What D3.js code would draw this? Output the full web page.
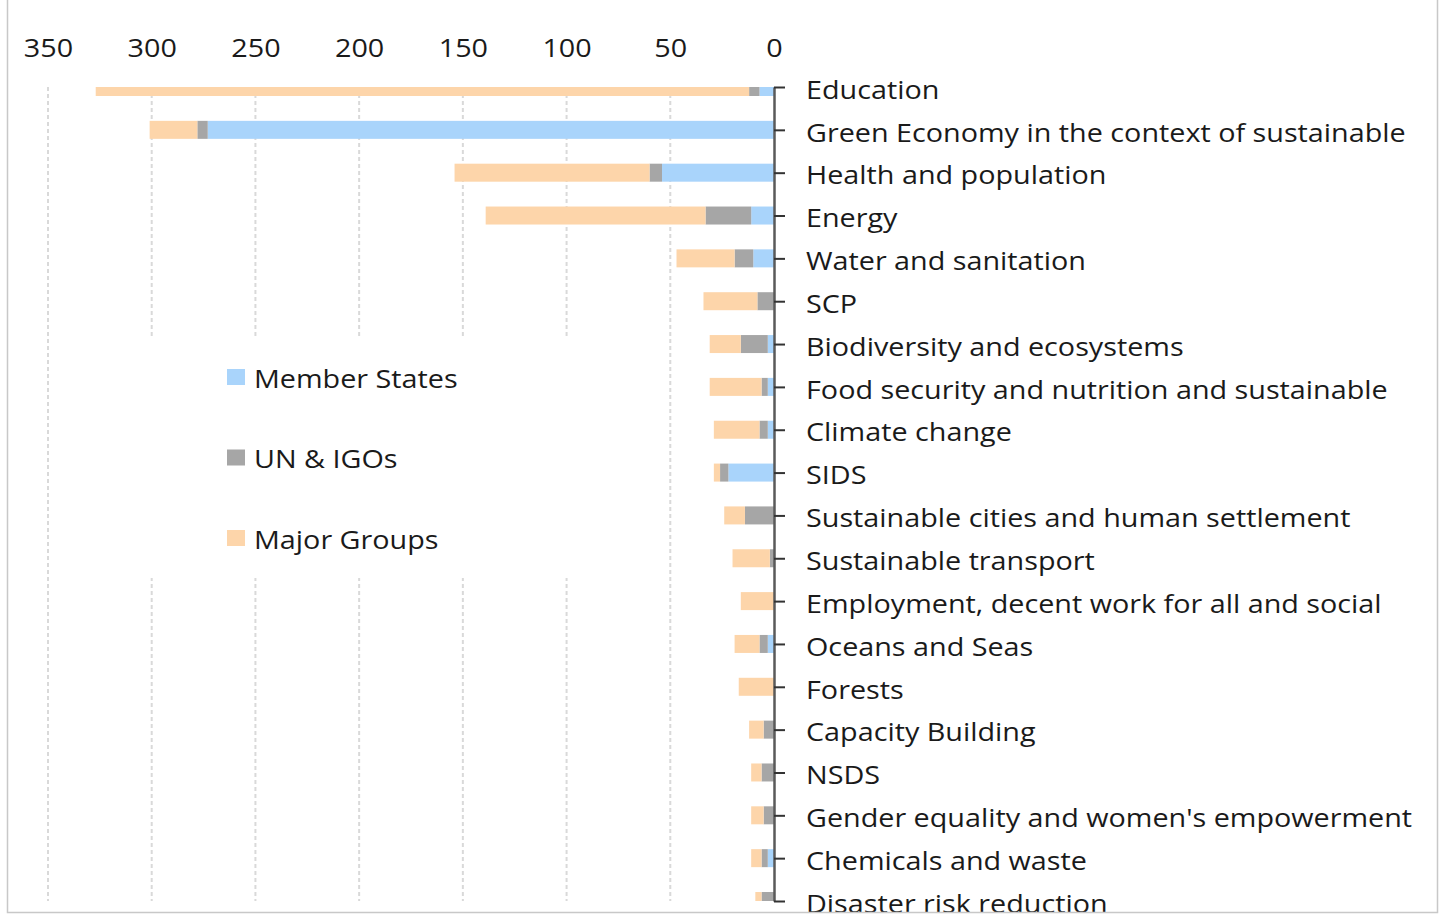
<!DOCTYPE html>
<html>
<head>
<meta charset="utf-8">
<script src="https://cdn.jsdelivr.net/npm/d3@7"></script>
<style>
  body { margin: 0; background: #fff; }
  text { font-family: "Open Sans", sans-serif; fill: #1a1a1a; }
</style>
</head>
<body>
<svg width="1443" height="915"></svg>
<script>
// data ======================================================
var topics = [
  "Education", "Green Economy in the context of sustainable", "Health and population",
  "Energy", "Water and sanitation", "SCP", "Biodiversity and ecosystems",
  "Food security and nutrition and sustainable", "Climate change", "SIDS",
  "Sustainable cities and human settlement", "Sustainable transport",
  "Employment, decent work for all and social", "Oceans and Seas", "Forests",
  "Capacity Building", "NSDS", "Gender equality and women's empowerment",
  "Chemicals and waste", "Disaster risk reduction"
];
var memberStates = [7, 273, 54, 11, 10, 0, 3, 3, 3, 22, 0, 0, 0, 3, 0, 0, 0, 0, 3, 0];
var unIgos       = [5, 5, 6, 22, 9, 8, 13, 3, 4, 4, 14, 2, 0, 4, 0, 5, 6, 5, 3, 6];
var majorGroups  = [315, 23, 94, 106, 28, 26, 15, 25, 22, 3, 10, 18, 16, 12, 17, 7, 5, 6, 5, 3];
var seriesNames  = ["Member States", "UN & IGOs", "Major Groups"];
var xTicks = [0, 50, 100, 150, 200, 250, 300, 350];

// setup =====================================================
var colors = ["#a9d4fb", "#a6a6a6", "#fdd5aa"];
var stretch = 1.15; // the text in the original is a bit wide
var svg = d3.select("svg");

var x = d3.scaleLinear().domain([0, 350]).range([774, 48]);
var y = d3.scalePoint().domain(topics).range([87, 901]);
var barH = 18;

var rows = topics.map(function(t, i) {
  return { topic: t, ms: memberStates[i], un: unIgos[i], mg: majorGroups[i] };
});
var stack = d3.stack().keys(["ms", "un", "mg"])(rows);

var defs = svg.append("defs");
defs.append("clipPath").attr("id", "plot")
  .append("rect").attr("x", 0).attr("y", 87).attr("width", 1443).attr("height", 814);
defs.append("clipPath").attr("id", "frame")
  .append("rect").attr("x", 0).attr("y", 0).attr("width", 1443).attr("height", 912);

var root = svg.append("g").attr("clip-path", "url(#frame)");

// gridlines
root.append("g").selectAll("line")
  .data(xTicks.filter(function(d) { return d > 0; }))
  .enter().append("line")
  .attr("x1", function(d) { return x(d); })
  .attr("x2", function(d) { return x(d); })
  .attr("y1", 87).attr("y2", 901)
  .attr("stroke", "#d9d9d9").attr("stroke-width", 2)
  .attr("stroke-dasharray", "4,3");

// top value axis
root.append("g")
  .attr("transform", "translate(0,57)")
  .call(d3.axisTop(x).tickValues(xTicks).tickSize(0).tickPadding(0))
  .call(function(g) { g.select(".domain").remove(); })
  .selectAll("text")
  .style("font-family", "Open Sans, sans-serif")
  .style("font-size", "25px")
  .attr("fill", "#1a1a1a")
  .attr("transform", "scale(" + stretch + ",1)");

// bars
root.append("g").attr("clip-path", "url(#plot)")
  .selectAll("g")
  .data(stack)
  .enter().append("g")
  .attr("fill", function(d, i) { return colors[i]; })
  .selectAll("rect")
  .data(function(d) { return d; })
  .enter().append("rect")
  .attr("x", function(d) { return x(d[1]); })
  .attr("width", function(d) { return x(d[0]) - x(d[1]); })
  .attr("y", function(d) { return y(d.data.topic) - barH / 2; })
  .attr("height", barH);

// category axis
var yAxis = root.append("g")
  .attr("transform", "translate(774,0)")
  .call(d3.axisRight(y).tickSize(11).tickPadding(21).tickSizeOuter(0));
yAxis.select(".domain").attr("stroke", "#5a5a5a").attr("stroke-width", 2.5);
yAxis.selectAll(".tick line").attr("stroke", "#333").attr("stroke-width", 2);
yAxis.selectAll("text")
  .style("font-family", "Open Sans, sans-serif")
  .style("font-size", "25px")
  .attr("fill", "#1a1a1a")
  .attr("x", 32 / stretch)
  .attr("dy", "0.45em")
  .attr("transform", "scale(" + stretch + ",1)");

// legend
var legend = root.append("g");
legend.append("rect")
  .attr("x", 100).attr("y", 336).attr("width", 515).attr("height", 242)
  .attr("fill", "#fff");
var items = legend.selectAll(".item")
  .data(seriesNames)
  .enter().append("g")
  .attr("class", "item")
  .attr("transform", function(d, i) { return "translate(227," + (377 + i * 80.5) + ")"; });
items.append("rect")
  .attr("x", 0).attr("y", -8).attr("width", 18).attr("height", 16)
  .attr("fill", function(d, i) { return colors[i]; });
items.append("text")
  .attr("x", 27 / stretch).attr("dy", "0.42em")
  .attr("transform", "scale(" + stretch + ",1)")
  .style("font-size", "25px")
  .text(function(d) { return d; });

// frame
svg.append("path")
  .attr("d", "M7.5,0V912.5H1437.5V0")
  .attr("fill", "none")
  .attr("stroke", "#c8c8c8")
  .attr("stroke-width", 1.5);
</script>
</body>
</html>
